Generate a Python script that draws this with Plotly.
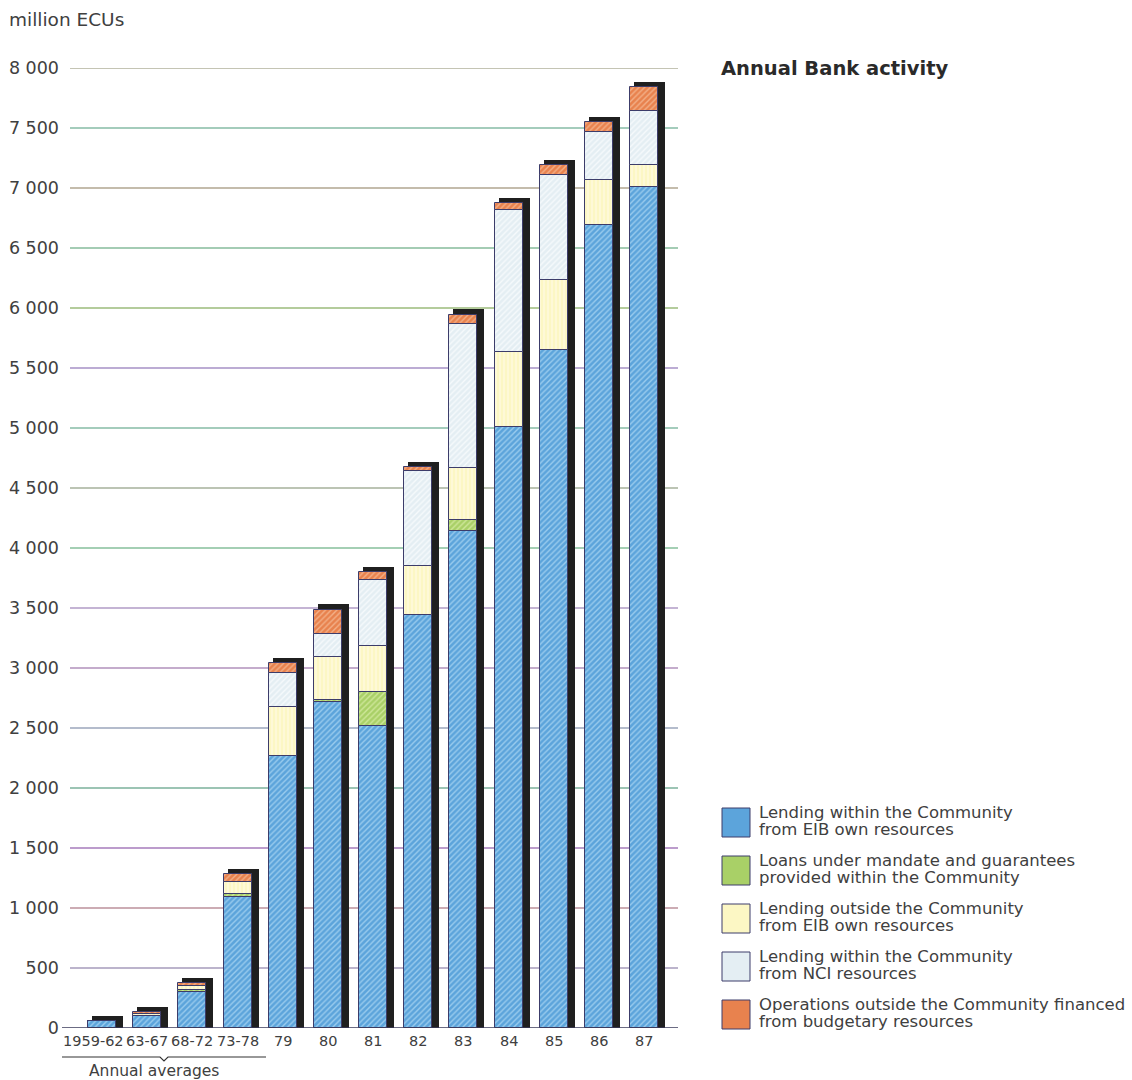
import plotly.graph_objects as go

# ---------------- data ----------------
categories = ["1959-62", "63-67", "68-72", "73-78", "79", "80", "81", "82", "83", "84", "85", "86", "87"]
eib_within = [55, 100, 300, 1090, 2267, 2717, 2517, 3442, 4142, 5008, 5650, 6692, 7008]
mandate = [0, 4, 15, 25, 0, 17, 283, 0, 92, 0, 0, 0, 0]
eib_outside = [0, 14, 35, 100, 408, 358, 383, 408, 433, 625, 583, 375, 183]
nci_within = [0, 0, 0, 0, 283, 192, 550, 792, 1200, 1183, 875, 400, 450]
budgetary = [3, 12, 25, 65, 83, 200, 67, 33, 75, 58, 83, 83, 200]

series_names = [
    ["Lending within the Community", "from EIB own resources"],
    ["Loans under mandate and guarantees", "provided within the Community"],
    ["Lending outside the Community", "from EIB own resources"],
    ["Lending within the Community", "from NCI resources"],
    ["Operations outside the Community financed", "from budgetary resources"],
]
y_ticks = [0, 500, 1000, 1500, 2000, 2500, 3000, 3500, 4000, 4500, 5000, 5500, 6000, 6500, 7000, 7500, 8000]
y_tick_labels = [f"{v:,}".replace(",", " ") for v in y_ticks]

# ---------------- styles ----------------
series_values = [eib_within, mandate, eib_outside, nci_within, budgetary]
face_colors = ["#5ca4db", "#a9d067", "#fcf7c4", "#e4eef3", "#e8824e"]
pattern_fg = ["#9accee", "#cfe79a", "#fffbe0", "#f6fafc", "#f3b088"]
pattern_shapes = ["/", "/", "|", "/", "/"]
grid_colors = ["#4a4a6a", "#7a6a9a", "#9a5a6a", "#7a3a9a", "#3a8a6a", "#6a7a9a", "#8a5a9a",
               "#8a6aaa", "#4aa06a", "#7a8a6a", "#4a9a7a", "#7a5aaa", "#6a9a3a", "#4a9a6a",
               "#8a7a5a", "#4a9a7a", "#8a8a6a"]
text_color = "#404040"
FONT = "DejaVu Sans, Liberation Sans, sans-serif"

# layout geometry (pixels)
W, H = 1132, 1080
L, R = 70, 678          # plot area x extents
T, B = 68, 1028         # plot area y extents
spacing_px = 45.17
bar_w = 28 / spacing_px
shadow_dx = 4 / spacing_px
shadow_w = 31 / spacing_px
y_per_px = 8000 / (B - T)
shadow_dy = 5.5 * y_per_px

def px(x):
    return (x - L) / (R - L)

def py(y):
    return (B - y) / (B - T)

totals = [sum(v) for v in zip(*series_values)]
xi = list(range(len(categories)))

fig = go.Figure()

# 3D shadow block behind each bar
fig.add_trace(go.Bar(
    x=xi, y=[t + shadow_dy for t in totals], base=0,
    width=shadow_w, offset=-bar_w / 2 + shadow_dx,
    marker=dict(color="#1f1f1f", line=dict(width=0)),
    showlegend=False, hoverinfo="skip",
))

cum = [0] * len(categories)
for k, vals in enumerate(series_values):
    fig.add_trace(go.Bar(
        x=xi, y=vals, base=list(cum),
        width=bar_w, offset=-bar_w / 2,
        name=" ".join(series_names[k]),
        marker=dict(
            color=face_colors[k],
            line=dict(color="#3c3c6a", width=1),
            pattern=dict(shape=pattern_shapes[k], bgcolor=face_colors[k],
                         fgcolor=pattern_fg[k], size=4, solidity=0.35, fillmode="replace"),
        ),
        showlegend=False,
    ))
    cum = [c + v for c, v in zip(cum, vals)]

shapes = []
# coloured gridlines
for v, c in zip(y_ticks, grid_colors):
    if v == 0:
        continue
    shapes.append(dict(type="line", xref="paper", yref="y", x0=0, x1=1, y0=v, y1=v,
                       line=dict(color=c, width=1.2), layer="below"))
# baseline
shapes.append(dict(type="line", xref="paper", yref="y", x0=px(62), x1=1, y0=0, y1=0,
                   line=dict(color="#3a3a5a", width=1.5), layer="above"))
# "Annual averages" bracket
shapes.append(dict(type="path", xref="paper", yref="paper",
                   path=f"M {px(62)} {py(1057)} L {px(160)} {py(1057)} L {px(164)} {py(1061)} "
                        f"L {px(168)} {py(1057)} L {px(266)} {py(1057)}",
                   line=dict(color="#333333", width=1.2)))

annotations = [
    dict(text="million ECUs", xref="paper", yref="paper", x=px(7), y=py(20),
         xanchor="left", yanchor="middle", showarrow=False,
         font=dict(family=FONT, size=18.5, color=text_color)),
    dict(text="<b>Annual Bank activity</b>", xref="paper", yref="paper", x=px(719), y=py(68),
         xanchor="left", yanchor="middle", showarrow=False,
         font=dict(family=FONT, size=19.5, color="#2a2a2a")),
    dict(text="Annual averages", xref="paper", yref="paper", x=px(154), y=py(1071),
         xanchor="center", yanchor="middle", showarrow=False,
         font=dict(family=FONT, size=15.5, color=text_color)),
]

# category labels under the bars
for i, cat in enumerate(categories):
    annotations.append(dict(text=cat, xref="x", yref="paper", x=i, y=py(1041),
                            xshift=-9 if i == 0 else 0,
                            xanchor="center", yanchor="middle", showarrow=False,
                            font=dict(family=FONT, size=14.5, color=text_color)))

# custom legend
legend_top = 808
legend_step = 48
for k in range(len(series_values)):
    y0 = legend_top + k * legend_step
    shapes.append(dict(type="rect", xref="paper", yref="paper",
                       x0=px(722), x1=px(750), y0=py(y0), y1=py(y0 + 29),
                       fillcolor=face_colors[k], line=dict(color="#3c3c6a", width=1)))
    for j, line_txt in enumerate(series_names[k]):
        annotations.append(dict(text=line_txt, xref="paper", yref="paper",
                                x=px(757), y=py(y0 + 4 + j * 17),
                                xanchor="left", yanchor="middle", showarrow=False,
                                font=dict(family=FONT, size=16.5, color=text_color)))

fig.update_layout(
    width=W, height=H,
    margin=dict(l=L, r=W - R, t=T, b=H - B, pad=0, autoexpand=False),
    paper_bgcolor="white", plot_bgcolor="white",
    barmode="overlay", bargap=0,
    shapes=shapes, annotations=annotations,
    xaxis=dict(range=[-0.71, 12.75], tickvals=xi, ticktext=categories, showticklabels=False,
               showgrid=False, zeroline=False, showline=False, ticks="", automargin=False),
    yaxis=dict(range=[0, 8000], tickvals=y_ticks, ticktext=y_tick_labels,
               showgrid=False, zeroline=False, showline=False, ticks="", automargin=False,
               tickfont=dict(family=FONT, size=17.5, color=text_color), ticklabelstandoff=10),
    showlegend=False,
)

fig.write_html("out.html")
